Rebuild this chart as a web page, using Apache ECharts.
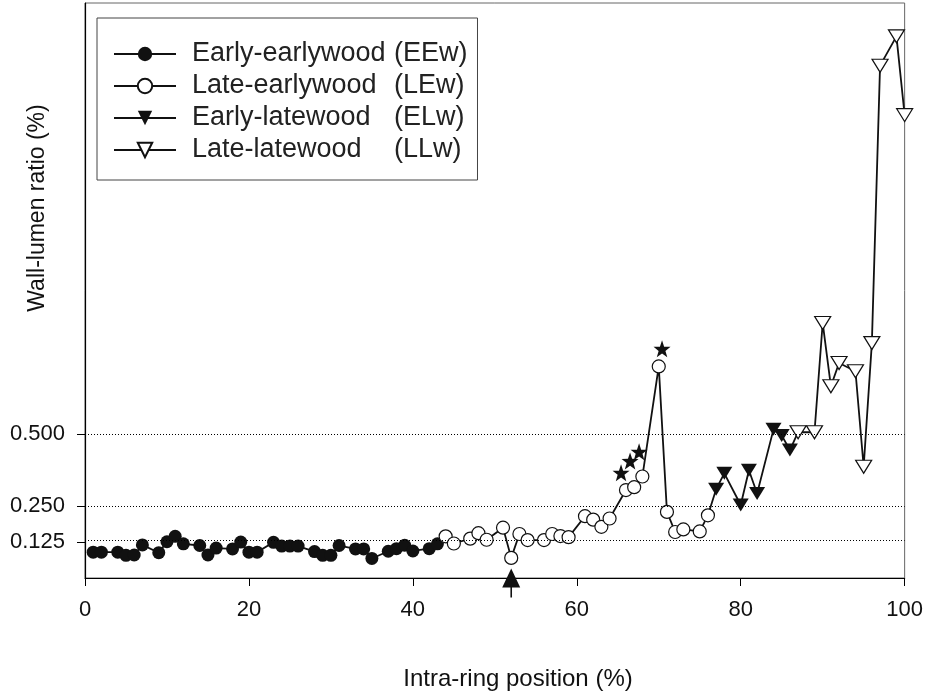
<!DOCTYPE html>
<html>
<head>
<meta charset="utf-8">
<style>
  html, body { margin: 0; padding: 0; background: #fff; }
  #main { width: 926px; height: 694px; }
</style>
<script src="https://cdn.jsdelivr.net/npm/echarts@6/dist/echarts.min.js"></script>
</head>
<body>
<div id="main"></div>
<script>
// wall-lumen ratio along the ring, four wood zones
var eewX = [1, 2, 4, 5, 6, 7, 9, 10, 11, 12, 14, 15, 16, 18, 19, 20, 21, 23, 24, 25, 26, 28, 29, 30, 31, 33, 34, 35, 37, 38, 39, 40, 42, 43];
var eewY = [0.090, 0.090, 0.090, 0.079, 0.080, 0.115, 0.088, 0.126, 0.145, 0.119, 0.113, 0.080, 0.104, 0.101, 0.125, 0.090, 0.090, 0.124, 0.111, 0.111, 0.111, 0.092, 0.079, 0.079, 0.113, 0.101, 0.101, 0.068, 0.093, 0.102, 0.114, 0.094, 0.102, 0.119];
var lewX = [44, 45, 47, 48, 49, 51, 52, 53, 54, 56, 57, 58, 59, 61, 62, 63, 64, 66, 67, 68, 70, 71, 72, 73, 75, 76];
var lewY = [0.145, 0.120, 0.137, 0.156, 0.133, 0.175, 0.070, 0.153, 0.132, 0.132, 0.153, 0.146, 0.142, 0.215, 0.203, 0.178, 0.207, 0.306, 0.316, 0.353, 0.736, 0.230, 0.160, 0.169, 0.162, 0.218];
var elwX = [77, 78, 80, 81, 82, 84, 85, 86];
var elwY = [0.309, 0.364, 0.254, 0.375, 0.294, 0.517, 0.496, 0.445];
var llwX = [87, 89, 90, 91, 92, 94, 95, 96, 97, 99, 100];
var llwY = [0.507, 0.507, 0.887, 0.667, 0.748, 0.719, 0.387, 0.817, 1.782, 1.884, 1.610];
// star marks and the arrow under the axis
var starX = [65.4, 66.5, 67.6, 70.4];
var starY = [0.366, 0.407, 0.439, 0.797];
var arrowX = [52];

var seriesNames = ['Early-earlywood (EEw)', 'Late-earlywood (LEw)', 'Early-latewood (ELw)', 'Late-latewood (LLw)'];
var yTicks = [0.125, 0.25, 0.5];

var FONT = '"Liberation Sans", Arial, sans-serif';
var starPath = 'path://M0,-10 L2.35,-3.24 L9.51,-3.09 L3.8,1.24 L5.88,8.09 L0,4 L-5.88,8.09 L-3.8,1.24 L-9.51,-3.09 L-2.35,-3.24 Z';
var arrowPath = 'path://M0,0 L9,19 L-9,19 Z M-0.8,19 L0.8,19 L0.8,29 L-0.8,29 Z';

function pairs(xs, ys, prev) {
  var out = xs.map(function (x, i) { return [x, ys[i]]; });
  // join to previous zone so the line is continuous
  if (prev) out.unshift({ value: prev, symbol: 'none' });
  return out;
}
var eew = pairs(eewX, eewY);
var lew = pairs(lewX, lewY, eew[eew.length - 1]);
var elw = pairs(elwX, elwY, [lewX[lewX.length - 1], lewY[lewY.length - 1]]);
var llw = pairs(llwX, llwY, [elwX[elwX.length - 1], elwY[elwY.length - 1]]);

var lineStyle = { color: '#111', width: 1.8 };

var myChart = echarts.init(document.getElementById('main'));
myChart.setOption({
  animation: false,
  backgroundColor: '#fff',
  grid: {
    left: 85, right: 20, top: 3, bottom: 116,
    show: true, borderColor: '#666', borderWidth: 1
  },
  legend: {
    left: 97, top: 18,
    orient: 'vertical',
    data: seriesNames,
    itemWidth: 62, itemHeight: 18, itemGap: 2,
    padding: [21, 10, 15, 16],
    borderColor: '#444', borderWidth: 1,
    textStyle: {
      fontFamily: FONT, fontSize: 27, color: '#222', lineHeight: 30,
      rich: {
        a: { fontFamily: FONT, fontSize: 27, color: '#222', width: 202, padding: [0, 0, 0, 11] },
        b: { fontFamily: FONT, fontSize: 27, color: '#222' }
      }
    },
    formatter: function (name) {
      var k = name.indexOf(' (');
      return '{a|' + name.slice(0, k) + '}{b|' + name.slice(k + 1) + '}';
    }
  },
  xAxis: {
    type: 'value',
    min: 0, max: 100, interval: 20,
    axisLine: { lineStyle: { color: '#000', width: 1.2 } },
    axisTick: { length: 8, lineStyle: { color: '#000' } },
    axisLabel: { fontFamily: FONT, fontSize: 22, color: '#111', margin: 21 },
    splitLine: { show: false }
  },
  yAxis: {
    type: 'value',
    min: 0, max: 2,
    axisLine: { show: true, lineStyle: { color: '#000', width: 1.2 } },
    axisTick: { show: true, length: 8, customValues: yTicks, lineStyle: { color: '#000' } },
    axisLabel: {
      fontFamily: FONT, fontSize: 22, color: '#111', margin: 20,
      customValues: yTicks,
      formatter: function (v) { return v.toFixed(3); }
    },
    splitLine: { show: false }
  },
  graphic: [
    {
      type: 'text', x: 38, y: 208, rotation: Math.PI / 2,
      style: { text: 'Wall-lumen ratio (%)', fontFamily: FONT, fontSize: 23, fill: '#111', align: 'center', verticalAlign: 'middle' }
    },
    {
      type: 'text', x: 518, y: 679,
      style: { text: 'Intra-ring position (%)', fontFamily: FONT, fontSize: 24, fill: '#111', align: 'center', verticalAlign: 'middle' }
    }
  ],
  series: [
    {
      name: 'grid-lines', type: 'line', data: [], silent: true,
      markLine: {
        silent: true, symbol: 'none', label: { show: false },
        lineStyle: { color: '#000', type: [1, 2], width: 1 },
        data: yTicks.map(function (v) { return { yAxis: v }; })
      }
    },
    {
      name: seriesNames[0], type: 'line', data: eew,
      symbol: 'circle', symbolSize: 13,
      lineStyle: lineStyle,
      itemStyle: { color: '#111' }
    },
    {
      name: seriesNames[1], type: 'line', data: lew,
      symbol: 'circle', symbolSize: 13,
      lineStyle: lineStyle,
      itemStyle: { color: '#fff', borderColor: '#111', borderWidth: 1.2 }
    },
    {
      name: seriesNames[2], type: 'line', data: elw,
      symbol: 'triangle', symbolSize: [16, 13], symbolRotate: 180,
      lineStyle: lineStyle,
      itemStyle: { color: '#111' }
    },
    {
      name: seriesNames[3], type: 'line', data: llw,
      symbol: 'triangle', symbolSize: [16, 13], symbolRotate: 180,
      lineStyle: lineStyle,
      itemStyle: { color: '#fff', borderColor: '#111', borderWidth: 1.2 }
    },
    {
      name: 'stars', type: 'scatter',
      data: starX.map(function (x, i) { return [x, starY[i]]; }),
      symbol: starPath, symbolSize: 17,
      itemStyle: { color: '#111', opacity: 1 }
    },
    {
      name: 'arrow', type: 'scatter', clip: false, z: 5,
      data: arrowX.map(function (x) { return [x, 0]; }),
      symbol: arrowPath, symbolSize: [18, 29], symbolOffset: [0, 5],
      itemStyle: { color: '#111', opacity: 1 }
    }
  ]
});
</script>
</body>
</html>
